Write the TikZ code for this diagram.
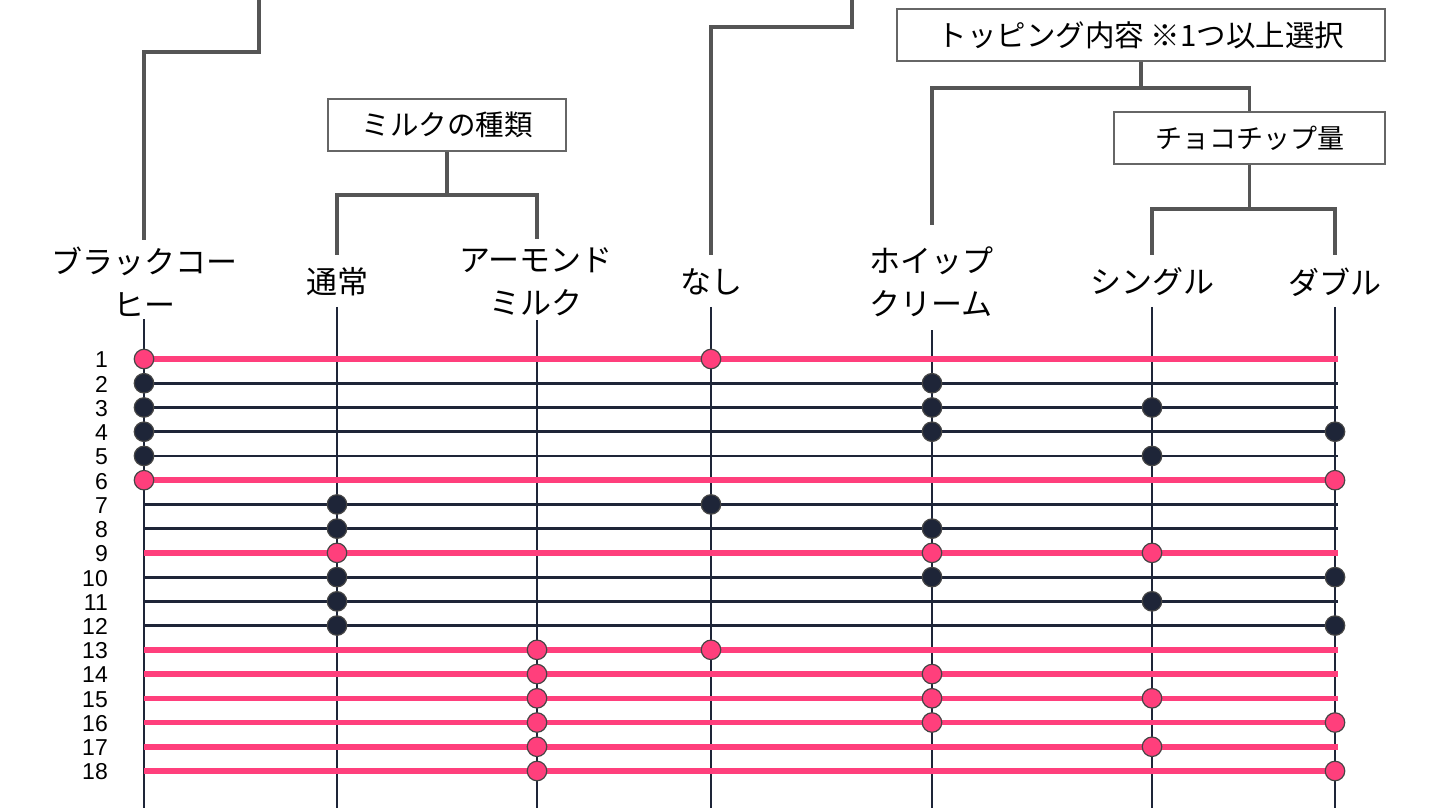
\documentclass[tikz,border=0pt]{standalone}
\usepackage{fontspec}
\setmainfont{Liberation Sans}
\newfontfamily\jp{Noto Sans CJK JP}
\definecolor{pinkc}{HTML}{FF3F7C}
\definecolor{navy}{HTML}{1E2538}
\definecolor{treec}{HTML}{555555}
\definecolor{boxc}{HTML}{666666}
\definecolor{dotedge}{HTML}{454545}
\begin{document}
\begin{tikzpicture}[x=1pt,y=-1pt,
  tree/.style={draw=treec,line width=3.2pt},
  boxs/.style={draw=boxc,line width=2pt,fill=white,inner sep=0pt,minimum height=52pt},
  lbl/.style={font=\jp\fontsize{31}{43}\selectfont,align=center,inner sep=0pt},
  num/.style={anchor=east,font=\fontsize{23}{23}\selectfont,inner sep=0pt},
  vline/.style={draw=navy,line width=2.8pt},
  prow/.style={draw=pinkc,line width=5.5pt},
  drow/.style={draw=navy,line width=2.8pt},
  pdot/.style={circle,fill=pinkc,draw=dotedge,line width=1.2pt,minimum size=19.5pt,inner sep=0pt},
  ddot/.style={circle,fill=navy,draw=dotedge,line width=1.2pt,minimum size=19.5pt,inner sep=0pt}]
\useasboundingbox (0,0) rectangle (1440,810);

% column tops (where the vertical lines begin)
\coordinate (c1) at (144,319);
\coordinate (c2) at (337,307);
\coordinate (c3) at (537,320);
\coordinate (c4) at (711,307);
\coordinate (c5) at (932,330);
\coordinate (c6) at (1152,307);
\coordinate (c7) at (1335,307);
\coordinate (bot) at (0,808);
\coordinate (cend) at (1338,0);

% tree ends above labels
\coordinate (t1) at (144,240);
\coordinate (t2) at (337,255);
\coordinate (t3) at (537,239);
\coordinate (t4) at (711,255);
\coordinate (t5) at (932,225);
\coordinate (t6) at (1152,255);
\coordinate (t7) at (1335,255);
\coordinate (ext1) at (259,0);
\coordinate (ext4) at (852,0);

% boxes
\node[boxs,minimum width=238pt,font=\jp\fontsize{28.5}{32}\selectfont] (milk) at (447,125) {ミルクの種類};
\node[boxs,minimum width=488pt,font=\jp\fontsize{29.5}{32}\selectfont] (top) at (1141,35) {トッピング内容 ※1つ以上選択};
\node[boxs,minimum width=271pt,font=\jp\fontsize{27}{32}\selectfont] (choco) at (1249.5,138) {チョコチップ量};

% tree connectors
\draw[tree] (ext1) -- (259,52) -| (t1);
\draw[tree] (ext4) -- (852,27) -| (t4);
\draw[tree] (milk.south) -- (447,195) coordinate (mj);
\draw[tree] (t2) |- (mj) -| (t3);
\draw[tree] (top.south) -- (1141,88) coordinate (tj);
\draw[tree] (t5) |- (tj) -| (choco.north);
\draw[tree] (choco.south) -- (1249.5,209) coordinate (cj);
\draw[tree] (t6) |- (cj) -| (t7);

% labels
\node[lbl] (L1) at (144,281.5) {ブラックコー\\ヒー};
\node[lbl] (L2) at (337,282) {通常};
\node[lbl] (L3) at (536,281.5) {アーモンド\\ミルク};
\node[lbl] (L4) at (711,282) {なし};
\node[lbl] (L5) at (931,281.5) {ホイップ\\クリーム};
\node[lbl] (L6) at (1152,282) {シングル};
\node[lbl] (L7) at (1335,282) {ダブル};

% vertical lines
\foreach \i in {1,...,7} {\draw[vline] (c\i) -- (c\i |- bot);}

% rows
\foreach \i in {1,...,18} {
  \coordinate (r\i) at (0,{359+(\i-1)*24.235});
  \node[num] (n\i) at (108,{360+(\i-1)*24.235}) {\i};
}
\foreach \r/\t/\cs in {1/p/{1,4},2/d/{1,5},3/d/{1,5,6},4/d/{1,5,7},5/d/{1,6},6/p/{1,7},
  7/d/{2,4},8/d/{2,5},9/p/{2,5,6},10/d/{2,5,7},11/d/{2,6},12/d/{2,7},
  13/p/{3,4},14/p/{3,5},15/p/{3,5,6},16/p/{3,5,7},17/p/{3,6},18/p/{3,7}} {
  \draw[\t row] (c1 |- r\r) -- (cend |- r\r);
  \foreach \c in \cs {\node[\t dot] (d\r-\c) at (c\c |- r\r) {};}
}
\end{tikzpicture}
\end{document}
